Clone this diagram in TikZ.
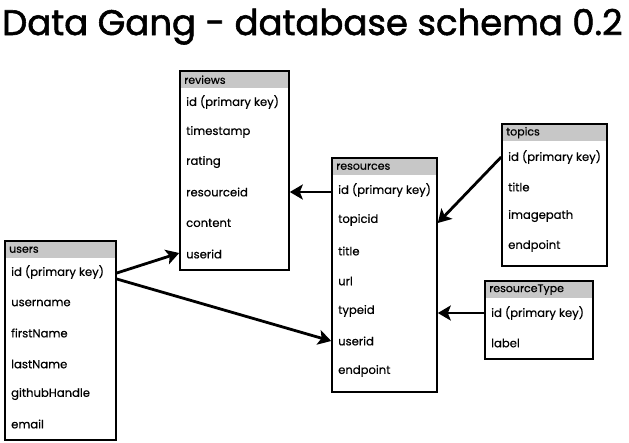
\documentclass[tikz,border=0pt]{standalone}
\usepackage{fontspec}
\setmainfont{Poppins}
\newfontfamily\sketchfont{Poppins}[FakeBold=0.5]
\newfontfamily\titlefont{Poppins}[FakeBold=1.6]
\usetikzlibrary{arrows.meta}
\begin{document}
\begin{tikzpicture}
            [x=1pt,y=-1pt,
             tbl/.style={draw=black,line width=1.6pt,rectangle},
             hdr/.style={anchor=north west,fill=black!22,inner xsep=4pt,inner ysep=0pt,minimum height=17pt,text width=#1,font=\sketchfont\fontsize{11}{12}\selectfont},
             fld/.style={anchor=west,inner sep=2pt,font=\sketchfont\fontsize{11.6}{12}\selectfont},
             link/.style={line width=2.8pt,-{Stealth[length=13pt,width=15pt,inset=3pt]}}]
            \useasboundingbox (0,0) rectangle (629,442);
            \node[anchor=base west,inner sep=0pt,font=\titlefont\fontsize{35.5}{38}\selectfont] (title) at (2,35) {Data Gang - database schema 0.2};
            % reviews
            \node[hdr=101pt] (reviewshead) at (180,71) {reviews};
            \node[tbl,minimum width=109pt,minimum height=199pt] (reviews) at (234.5,170.5) {};
            \node[fld] (rv1) at (184,102) {id (primary key)};
            \node[fld] (rv2) at (184,132) {timestamp};
            \node[fld] (rv3) at (184,162) {rating};
            \node[fld] (rv4) at (184,192) {resourceid};
            \node[fld] (rv5) at (184,223) {content};
            \node[fld] (rv6) at (184,254) {userid};
            % users
            \node[hdr=103pt] (usershead) at (5,241) {users};
            \node[tbl,minimum width=111pt,minimum height=199pt] (users) at (60.5,340.5) {};
            \node[fld] (us1) at (9,272) {id (primary key)};
            \node[fld] (us2) at (9,303) {username};
            \node[fld] (us3) at (9,333) {firstName};
            \node[fld] (us4) at (9,364) {lastName};
            \node[fld] (us5) at (9,394) {githubHandle};
            \node[fld] (us6) at (9,424) {email};
            % resources
            \node[hdr=97pt] (resourceshead) at (332,158) {resources};
            \node[tbl,minimum width=105pt,minimum height=234pt] (resources) at (384.5,275) {};
            \node[fld] (rs1) at (336,190) {id (primary key)};
            \node[fld] (rs2) at (336,220) {topicid};
            \node[fld] (rs3) at (336,251) {title};
            \node[fld] (rs4) at (336,281) {url};
            \node[fld] (rs5) at (336,311) {typeid};
            \node[fld] (rs6) at (336,341) {userid};
            \node[fld] (rs7) at (336,371) {endpoint};
            % topics
            \node[hdr=97pt] (topicshead) at (502,124) {topics};
            \node[tbl,minimum width=105pt,minimum height=142pt] (topics) at (554.5,195) {};
            \node[fld] (tp1) at (506,157) {id (primary key)};
            \node[fld] (tp2) at (506,187) {title};
            \node[fld] (tp3) at (506,216) {imagepath};
            \node[fld] (tp4) at (506,246) {endpoint};
            % resourceType
            \node[hdr=100pt] (typehead) at (485,281) {resourceType};
            \node[tbl,minimum width=108pt,minimum height=78pt] (resourcetype) at (539,320) {};
            \node[fld] (rt1) at (489,313) {id (primary key)};
            \node[fld] (rt2) at (489,343) {label};
            % relations
            \draw[link] (resources.west |- rv4) -- (reviews.east |- rv4);
            \draw[link] ([yshift=-1pt]users.east |- us1) -- ([yshift=1pt]reviews.west |- rv6);
            \draw[link] ([yshift=-7pt]users.east |- us1) -- (resources.west |- rs6);
            \draw[link] (topics.west |- tp1) -- ([yshift=-3pt]resources.east |- rs2);
            \draw[link] (resourcetype.west |- rt1) -- (resources.east |- rt1);
        \end{tikzpicture}
\end{document}
